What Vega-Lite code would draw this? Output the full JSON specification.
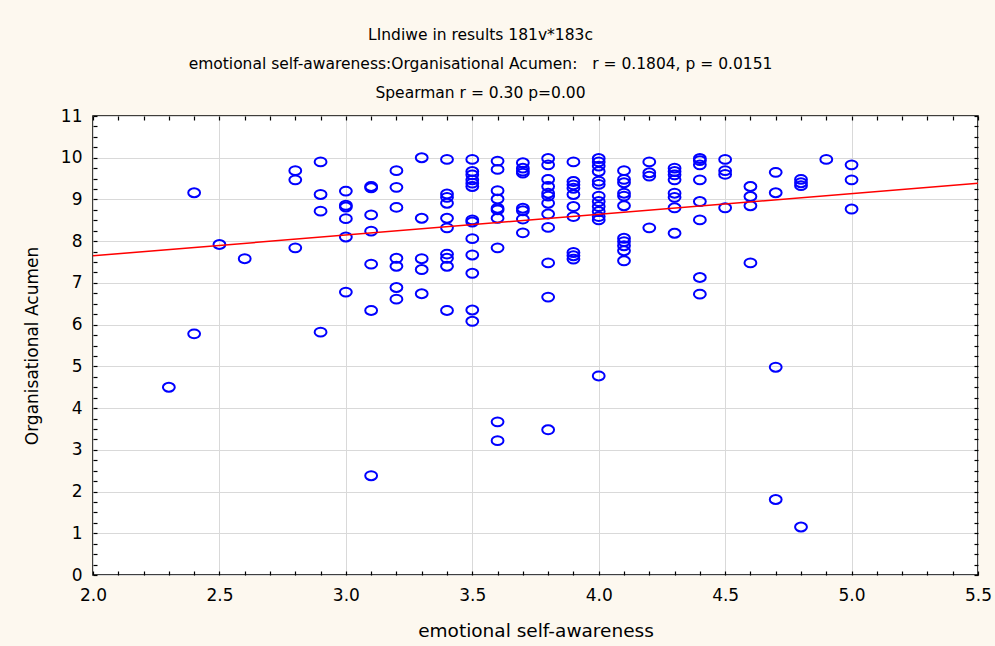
{
  "$schema": "https://vega.github.io/schema/vega-lite/v6.json",
  "width": 885,
  "height": 459,
  "autosize": {"type": "none"},
  "padding": {"left": 93, "top": 116, "right": 17, "bottom": 71},
  "background": "#fdf8ef",
  "title": {
    "text": ["LIndiwe in results 181v*183c", "emotional self-awareness:Organisational Acumen:\u00a0\u00a0 r = 0.1804, p = 0.0151", "Spearman r = 0.30 p=0.00"],
    "font": "DejaVu Sans",
    "fontSize": 15.5,
    "fontWeight": "normal",
    "color": "black",
    "lineHeight": 29,
    "anchor": "middle",
    "frame": "group",
    "dx": -55,
    "offset": 6
  },
  "datasets": {
    "pts": [
      {"esa": 2.3, "oa": 4.50},
      {"esa": 2.4, "oa": 9.16}, {"esa": 2.4, "oa": 5.78},
      {"esa": 2.5, "oa": 7.92},
      {"esa": 2.6, "oa": 7.58},
      {"esa": 2.8, "oa": 9.69}, {"esa": 2.8, "oa": 9.47}, {"esa": 2.8, "oa": 7.84},
      {"esa": 2.9, "oa": 9.90}, {"esa": 2.9, "oa": 9.12}, {"esa": 2.9, "oa": 8.72}, {"esa": 2.9, "oa": 5.82},
      {"esa": 3.0, "oa": 9.20}, {"esa": 3.0, "oa": 8.86}, {"esa": 3.0, "oa": 8.82}, {"esa": 3.0, "oa": 8.54}, {"esa": 3.0, "oa": 8.10}, {"esa": 3.0, "oa": 6.78},
      {"esa": 3.1, "oa": 9.31}, {"esa": 3.1, "oa": 9.28}, {"esa": 3.1, "oa": 8.63}, {"esa": 3.1, "oa": 8.24}, {"esa": 3.1, "oa": 7.45}, {"esa": 3.1, "oa": 6.34}, {"esa": 3.1, "oa": 2.38},
      {"esa": 3.2, "oa": 9.69}, {"esa": 3.2, "oa": 9.29}, {"esa": 3.2, "oa": 8.81}, {"esa": 3.2, "oa": 7.59}, {"esa": 3.2, "oa": 7.40}, {"esa": 3.2, "oa": 6.89}, {"esa": 3.2, "oa": 6.61},
      {"esa": 3.3, "oa": 10.0}, {"esa": 3.3, "oa": 8.55}, {"esa": 3.3, "oa": 7.58}, {"esa": 3.3, "oa": 7.32}, {"esa": 3.3, "oa": 6.74},
      {"esa": 3.4, "oa": 9.96}, {"esa": 3.4, "oa": 9.13}, {"esa": 3.4, "oa": 9.05}, {"esa": 3.4, "oa": 8.91}, {"esa": 3.4, "oa": 8.55}, {"esa": 3.4, "oa": 8.32}, {"esa": 3.4, "oa": 7.69}, {"esa": 3.4, "oa": 7.59}, {"esa": 3.4, "oa": 7.40}, {"esa": 3.4, "oa": 6.34},
      {"esa": 3.5, "oa": 9.96}, {"esa": 3.5, "oa": 9.67}, {"esa": 3.5, "oa": 9.59}, {"esa": 3.5, "oa": 9.47}, {"esa": 3.5, "oa": 9.39}, {"esa": 3.5, "oa": 9.31}, {"esa": 3.5, "oa": 8.51}, {"esa": 3.5, "oa": 8.46}, {"esa": 3.5, "oa": 8.06}, {"esa": 3.5, "oa": 7.67}, {"esa": 3.5, "oa": 7.23}, {"esa": 3.5, "oa": 6.35}, {"esa": 3.5, "oa": 6.08},
      {"esa": 3.6, "oa": 9.92}, {"esa": 3.6, "oa": 9.72}, {"esa": 3.6, "oa": 9.21}, {"esa": 3.6, "oa": 9.01}, {"esa": 3.6, "oa": 8.79}, {"esa": 3.6, "oa": 8.75}, {"esa": 3.6, "oa": 8.55}, {"esa": 3.6, "oa": 7.84}, {"esa": 3.6, "oa": 3.67}, {"esa": 3.6, "oa": 3.22},
      {"esa": 3.7, "oa": 9.88}, {"esa": 3.7, "oa": 9.75}, {"esa": 3.7, "oa": 9.68}, {"esa": 3.7, "oa": 9.63}, {"esa": 3.7, "oa": 8.79}, {"esa": 3.7, "oa": 8.73}, {"esa": 3.7, "oa": 8.53}, {"esa": 3.7, "oa": 8.20},
      {"esa": 3.8, "oa": 9.98}, {"esa": 3.8, "oa": 9.83}, {"esa": 3.8, "oa": 9.48}, {"esa": 3.8, "oa": 9.31}, {"esa": 3.8, "oa": 9.15}, {"esa": 3.8, "oa": 9.08}, {"esa": 3.8, "oa": 8.91}, {"esa": 3.8, "oa": 8.65}, {"esa": 3.8, "oa": 8.33}, {"esa": 3.8, "oa": 7.48}, {"esa": 3.8, "oa": 6.66}, {"esa": 3.8, "oa": 3.48},
      {"esa": 3.9, "oa": 9.90}, {"esa": 3.9, "oa": 9.43}, {"esa": 3.9, "oa": 9.35}, {"esa": 3.9, "oa": 9.27}, {"esa": 3.9, "oa": 9.12}, {"esa": 3.9, "oa": 8.83}, {"esa": 3.9, "oa": 8.59}, {"esa": 3.9, "oa": 7.73}, {"esa": 3.9, "oa": 7.65}, {"esa": 3.9, "oa": 7.57},
      {"esa": 4.0, "oa": 9.98}, {"esa": 4.0, "oa": 9.90}, {"esa": 4.0, "oa": 9.80}, {"esa": 4.0, "oa": 9.67}, {"esa": 4.0, "oa": 9.44}, {"esa": 4.0, "oa": 9.36}, {"esa": 4.0, "oa": 9.08}, {"esa": 4.0, "oa": 8.95}, {"esa": 4.0, "oa": 8.83}, {"esa": 4.0, "oa": 8.71}, {"esa": 4.0, "oa": 8.59}, {"esa": 4.0, "oa": 8.51}, {"esa": 4.0, "oa": 4.77},
      {"esa": 4.1, "oa": 9.69}, {"esa": 4.1, "oa": 9.48}, {"esa": 4.1, "oa": 9.40}, {"esa": 4.1, "oa": 9.15}, {"esa": 4.1, "oa": 9.08}, {"esa": 4.1, "oa": 8.85}, {"esa": 4.1, "oa": 8.07}, {"esa": 4.1, "oa": 7.99}, {"esa": 4.1, "oa": 7.89}, {"esa": 4.1, "oa": 7.77}, {"esa": 4.1, "oa": 7.53},
      {"esa": 4.2, "oa": 9.90}, {"esa": 4.2, "oa": 9.64}, {"esa": 4.2, "oa": 9.56}, {"esa": 4.2, "oa": 8.32},
      {"esa": 4.3, "oa": 9.75}, {"esa": 4.3, "oa": 9.67}, {"esa": 4.3, "oa": 9.59}, {"esa": 4.3, "oa": 9.47}, {"esa": 4.3, "oa": 9.15}, {"esa": 4.3, "oa": 9.05}, {"esa": 4.3, "oa": 8.80}, {"esa": 4.3, "oa": 8.19},
      {"esa": 4.4, "oa": 9.98}, {"esa": 4.4, "oa": 9.93}, {"esa": 4.4, "oa": 9.83}, {"esa": 4.4, "oa": 9.47}, {"esa": 4.4, "oa": 8.95}, {"esa": 4.4, "oa": 8.51}, {"esa": 4.4, "oa": 7.13}, {"esa": 4.4, "oa": 6.73},
      {"esa": 4.5, "oa": 9.96}, {"esa": 4.5, "oa": 9.69}, {"esa": 4.5, "oa": 9.60}, {"esa": 4.5, "oa": 8.80},
      {"esa": 4.6, "oa": 9.31}, {"esa": 4.6, "oa": 9.07}, {"esa": 4.6, "oa": 8.85}, {"esa": 4.6, "oa": 7.48},
      {"esa": 4.7, "oa": 9.65}, {"esa": 4.7, "oa": 9.16}, {"esa": 4.7, "oa": 4.98}, {"esa": 4.7, "oa": 1.81},
      {"esa": 4.8, "oa": 9.48}, {"esa": 4.8, "oa": 9.40}, {"esa": 4.8, "oa": 9.33}, {"esa": 4.8, "oa": 1.15},
      {"esa": 4.9, "oa": 9.96},
      {"esa": 5.0, "oa": 9.83}, {"esa": 5.0, "oa": 9.47}, {"esa": 5.0, "oa": 8.77}
    ],
    "fit": [
      {"esa": 2.0, "oa": 7.65},
      {"esa": 5.5, "oa": 9.39}
    ]
  },
  "layer": [
    {
      "data": {"name": "pts"},
      "mark": {"type": "point", "shape": "M -1 0 A 1 0.75 0 1 1 1 0 A 1 0.75 0 1 1 -1 0 Z", "filled": false, "stroke": "#0000ff", "strokeWidth": 2, "size": 140, "opacity": 1},
      "encoding": {
        "x": {
          "field": "esa", "type": "quantitative",
          "scale": {"domain": [2, 5.5], "nice": false, "zero": false},
          "axis": {
            "orient": "bottom",
            "values": [2,2.1,2.2,2.3,2.4,2.5,2.6,2.7,2.8,2.9,3,3.1,3.2,3.3,3.4,3.5,3.6,3.7,3.8,3.9,4,4.1,4.2,4.3,4.4,4.5,4.6,4.7,4.8,4.9,5,5.1,5.2,5.3,5.4,5.5],
            "labelExpr": "abs(datum.value*2-round(datum.value*2))<0.001 ? format(datum.value,'.1f') : ''",
            "grid": true,
            "gridOpacity": {"condition": {"test": "abs(datum.value*2-round(datum.value*2))<0.001", "value": 1}, "value": 0},
            "gridColor": "#d9d9d9",
            "gridWidth": 1,
            "tickSize": -4,
            "tickColor": "black",
            "tickWidth": 1.2,
            "labelPadding": 16,
            "labelFlush": false,
            "labelOverlap": false,
            "labelFont": "DejaVu Sans",
            "labelFontSize": 17,
            "labelColor": "black",
            "domain": false,
            "title": "emotional self-awareness",
            "titleFont": "DejaVu Sans",
            "titleFontSize": 18.5,
            "titleFontWeight": "normal",
            "titleColor": "black",
            "titlePadding": 18
          }
        },
        "y": {
          "field": "oa", "type": "quantitative",
          "scale": {"domain": [0, 11], "nice": false, "zero": true},
          "axis": {
            "orient": "left",
            "values": [0,0.25,0.5,0.75,1,1.25,1.5,1.75,2,2.25,2.5,2.75,3,3.25,3.5,3.75,4,4.25,4.5,4.75,5,5.25,5.5,5.75,6,6.25,6.5,6.75,7,7.25,7.5,7.75,8,8.25,8.5,8.75,9,9.25,9.5,9.75,10,10.25,10.5,10.75,11],
            "labelExpr": "abs(datum.value-round(datum.value))<0.001 ? format(datum.value,'d') : ''",
            "grid": true,
            "gridOpacity": {"condition": {"test": "abs(datum.value-round(datum.value))<0.001", "value": 1}, "value": 0},
            "gridColor": "#d9d9d9",
            "gridWidth": 1,
            "tickSize": -4,
            "tickColor": "black",
            "tickWidth": 1.2,
            "labelPadding": 15,
            "labelFlush": false,
            "labelOverlap": false,
            "labelFont": "DejaVu Sans",
            "labelFontSize": 17,
            "labelColor": "black",
            "domain": false,
            "title": "Organisational Acumen",
            "titleFont": "DejaVu Sans",
            "titleFontSize": 17,
            "titleFontWeight": "normal",
            "titleColor": "black",
            "titlePadding": 19
          }
        }
      }
    },
    {
      "data": {"name": "fit"},
      "mark": {"type": "line", "color": "#ff0000", "strokeWidth": 1.5},
      "encoding": {
        "x": {
          "field": "esa", "type": "quantitative",
          "scale": {"domain": [2, 5.5], "nice": false, "zero": false},
          "axis": {
            "orient": "top",
            "values": [2,2.1,2.2,2.3,2.4,2.5,2.6,2.7,2.8,2.9,3,3.1,3.2,3.3,3.4,3.5,3.6,3.7,3.8,3.9,4,4.1,4.2,4.3,4.4,4.5,4.6,4.7,4.8,4.9,5,5.1,5.2,5.3,5.4,5.5],
            "labels": false, "grid": false, "domain": false,
            "tickSize": -4, "tickColor": "black", "tickWidth": 1.2,
            "title": null
          }
        },
        "y": {
          "field": "oa", "type": "quantitative",
          "scale": {"domain": [0, 11], "nice": false, "zero": true},
          "axis": {
            "orient": "right",
            "values": [0,0.25,0.5,0.75,1,1.25,1.5,1.75,2,2.25,2.5,2.75,3,3.25,3.5,3.75,4,4.25,4.5,4.75,5,5.25,5.5,5.75,6,6.25,6.5,6.75,7,7.25,7.5,7.75,8,8.25,8.5,8.75,9,9.25,9.5,9.75,10,10.25,10.5,10.75,11],
            "labels": false, "grid": false, "domain": false,
            "tickSize": -4, "tickColor": "black", "tickWidth": 1.2,
            "title": null
          }
        }
      }
    }
  ],
  "resolve": {"axis": {"x": "independent", "y": "independent"}},
  "config": {
    "view": {"fill": "white", "stroke": "black", "strokeWidth": 1.5}
  }
}
